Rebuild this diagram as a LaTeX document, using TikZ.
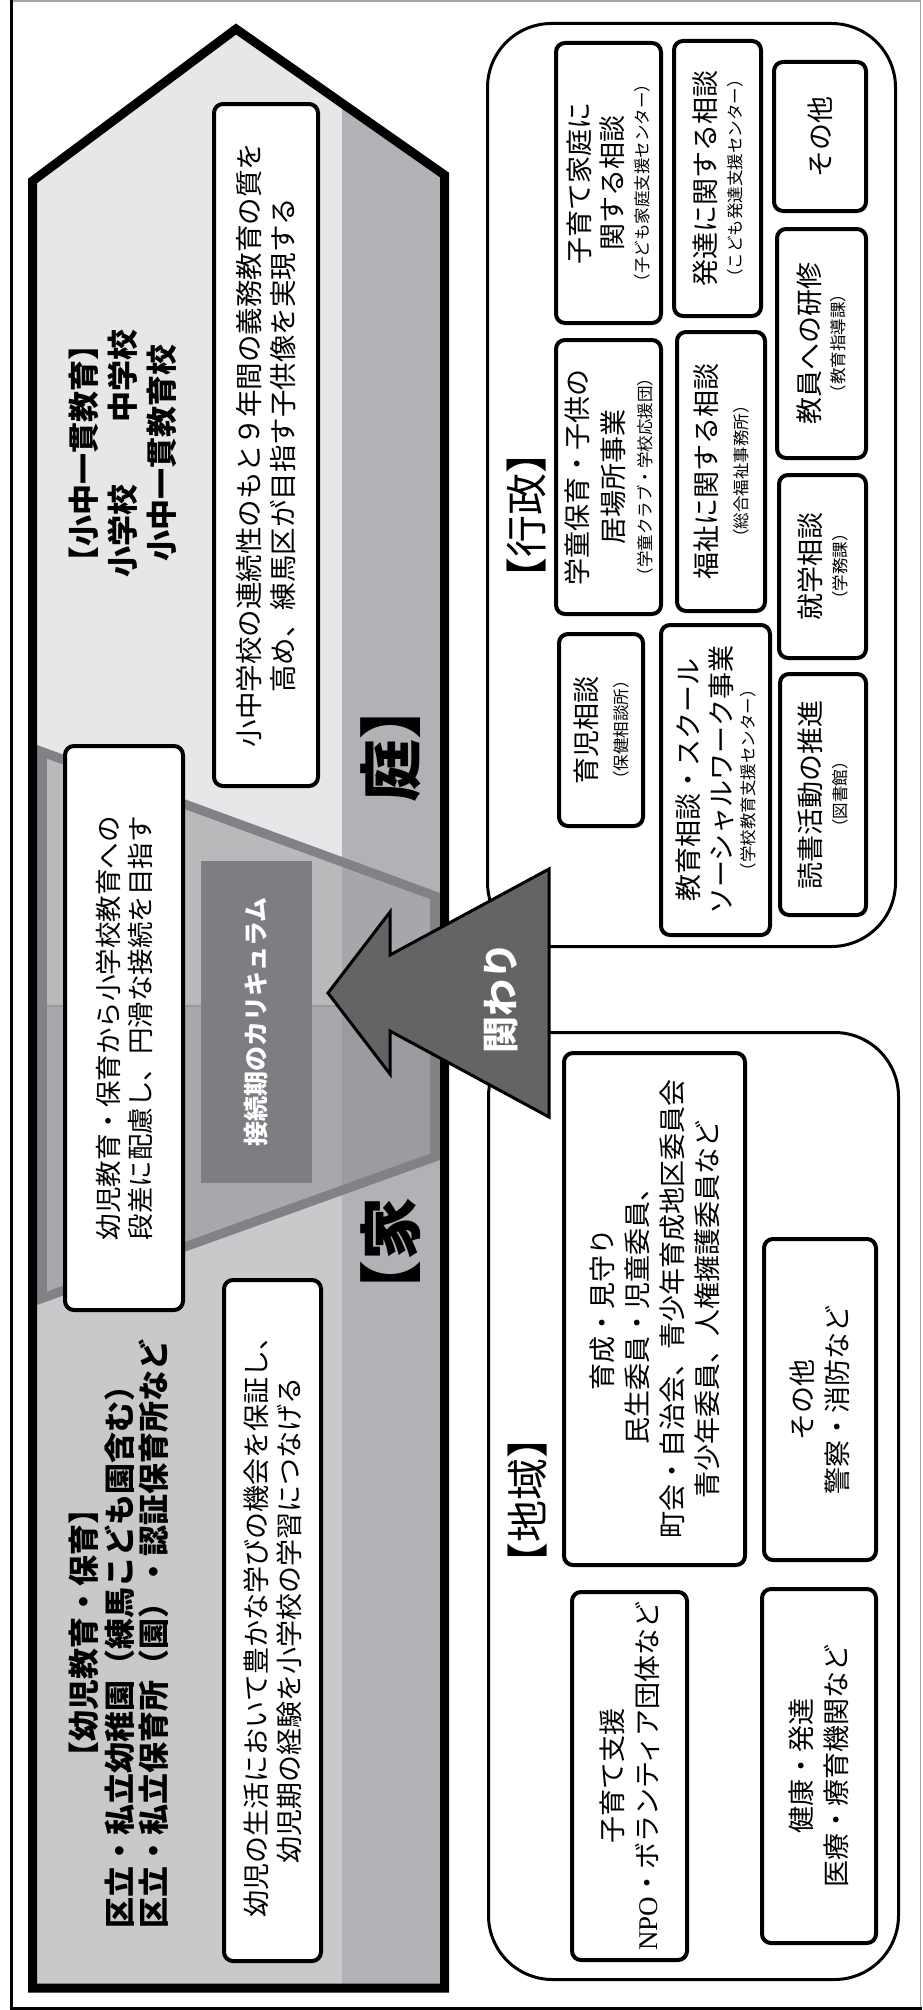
\documentclass[tikz,border=0pt]{standalone}
\usepackage{fontspec}
\setmainfont{Noto Sans CJK JP}
\newfontfamily\lserif{Liberation Serif}
\definecolor{roofc}{HTML}{E6E7E8}
\definecolor{bandc}{HTML}{B1B2B5}
\definecolor{lowc}{HTML}{C8C9CB}
\definecolor{trapc}{HTML}{808285}
\definecolor{tUL}{HTML}{B8B9BB}
\definecolor{tUR}{HTML}{A6A7AA}
\definecolor{tLL}{HTML}{A7A8AB}
\definecolor{tLR}{HTML}{9B9C9F}
\definecolor{currc}{HTML}{7D7E82}
\definecolor{arrc}{HTML}{636466}
\newcommand\fnBody{\fontsize{27}{35}\selectfont}
\newcommand\fnSmall{\fontsize{16.5}{26}\selectfont}
\newcommand\fnHead{\fontsize{42}{50}\selectfont}
\newcommand\fnTitle{\bfseries\fontsize{31}{39}\selectfont}
\newcommand\fnTitleB{\bfseries\fontsize{31}{35}\selectfont}
\newcommand\fnBig{\bfseries\fontsize{63}{70}\selectfont}
\newcommand\fnCur{\bfseries\fontsize{25}{30}\selectfont}
\newcommand\fnArr{\bfseries\fontsize{37}{44}\selectfont}
\begin{document}
\begin{tikzpicture}[x=1pt,y=-1pt,
  rt/.style={rotate=90, inner sep=0pt, align=center},
  sbox/.style={rt, draw=black, line width=4pt, fill=white, rounded corners=9pt, font=\fnBody},
  bigbox/.style={draw=black, line width=3pt, rounded corners=64pt, inner sep=0pt}]
\useasboundingbox (0,0) rectangle (922,2010);
% page frame
\draw[line width=3pt] (11.5,0) -- (11.5,2008.5) -- (922,2008.5);
\draw[line width=1.2pt, black!35] (13,1) -- (920.5,1) -- (920.5,2007);
% house shape fills
\begin{scope}
\clip (32.5,181) -- (236,29) -- (444.5,175) -- (444.5,1988) -- (32.5,1988) -- cycle;
\fill[roofc] (0,0) rectangle (460,2000);
\fill[lowc] (0,1318) -- (460,1152) -- (460,2000) -- (0,2000) -- cycle;
\fill[bandc] (342,0) rectangle (460,2000);
\fill[trapc] (30,742.4) -- (450,896.6) -- (450,1156.3) -- (30,1307.5) -- cycle;
\begin{scope}
\clip (47,758.7) -- (430,899.2) -- (430,1153.5) -- (47,1291.4) -- cycle;
\fill[tUL] (40,700) rectangle (342,1006);
\fill[tUR] (342,700) rectangle (440,1006);
\fill[tLL] (40,1006) rectangle (342,1300);
\fill[tLR] (342,1006) rectangle (440,1300);
\draw[line width=1.2pt, black!40] (40,1006) -- (440,1006);
\end{scope}
\end{scope}
\draw[line width=9pt, line join=miter] (32.5,181) -- (236,29) -- (444.5,175) -- (444.5,1988) -- (32.5,1988) -- cycle;
% texts in the house
\node[rt, font=\fnTitle] (t1) at (123,453) {【小中一貫教育】\\小学校　　中学校\\小中一貫教育校};
\node[sbox, minimum width=682pt, minimum height=104pt, font=\fontsize{27.5}{34}\selectfont] (p) at (266,445)
  {小中学校の連続性のもと９年間の義務教育の質を\\高め、練馬区が目指す子供像を実現する};
\node[rt, fill=currc, text=white, minimum width=322pt, minimum height=111pt, font=\fnCur] (cur) at (256.5,1022) {接続期のカリキュラム};
\node[sbox, minimum width=564pt, minimum height=118pt, font=\fontsize{26.5}{32}\selectfont] (q) at (124,1028)
  {幼児教育・保育から小学校教育への\\段差に配慮し、円滑な接続を目指す};
\node[sbox, minimum width=681pt, minimum height=97pt, font=\fontsize{27}{33}\selectfont] (r) at (272.5,1620.5)
  {幼児の生活において豊かな学びの機会を保証し、\\幼児期の経験を小学校の学習につなげる};
\node[rt, font=\fnTitleB] (t2a) at (84,1633) {【幼児教育・保育】};
\node[rt, font=\fnTitleB, anchor=west] (t2b) at (120,1929) {区立・私立幼稚園（練馬こども園含む）};
\node[rt, font=\fnTitleB, anchor=west] (t2c) at (154,1929) {区立・私立保育所（園）・認証保育所など};
\node[rt, font=\fnBig] (ie) at (391,1245) {\kern-0.5em【家};
\node[rt, font=\fnBig] (niwa) at (391,755) {庭】\kern-0.5em};
% administration
\node[bigbox, minimum width=408pt, minimum height=923pt] (gyosei) at (691.5,485) {};
\node[rt, font=\fnHead] (hgyosei) at (527,515) {\kern-0.5em【行政】\kern-0.5em};
\node[sbox, minimum width=280pt, minimum height=105pt] (ga) at (608.5,183)
  {子育て家庭に\\[-2pt]関する相談\\[-9pt]{\fnSmall （子ども家庭支援センター）}};
\node[sbox, minimum width=275pt, minimum height=87pt] (gb) at (717.5,178.5)
  {発達に関する相談\\[-9pt]{\fnSmall （こども発達支援センター）}};
\node[sbox, minimum width=149pt, minimum height=92pt] (gc) at (820,136.5) {その他};
\node[sbox, minimum width=274pt, minimum height=105pt] (gd) at (608.5,477)
  {学童保育・子供の\\[1pt]居場所事業\\[-7pt]{\fnSmall （学童クラブ・学校応援団）}};
\node[sbox, minimum width=279pt, minimum height=88pt] (ge) at (721,471.5)
  {福祉に関する相談\\[-4pt]{\fnSmall （総合福祉事務所）}};
\node[sbox, minimum width=229pt, minimum height=89pt] (gf) at (821.5,343.5)
  {教員への研修\\[-10pt]{\fnSmall （教育指導課）}};
\node[sbox, minimum width=183pt, minimum height=87pt] (gg) at (822.5,566.5)
  {就学相談\\[-9pt]{\fnSmall （学務課）}};
\node[sbox, minimum width=192pt, minimum height=84pt] (gh) at (601,730)
  {育児相談\\[-4pt]{\fnSmall （保健相談所）}};
\node[sbox, minimum width=310pt, minimum height=109pt] (gi) at (715.5,780)
  {教育相談・スクール\\[-2pt]ソーシャルワーク事業\\[-12pt]{\fnSmall （学校教育支援センター）}};
\node[sbox, minimum width=241pt, minimum height=86pt] (gj) at (823,794.5)
  {読書活動の推進\\[-9pt]{\fnSmall （図書館）}};
% community
\node[bigbox, minimum width=410pt, minimum height=947pt] (chiiki) at (693.5,1506) {};
\node[rt, font=\fnHead] (hchiiki) at (528,1500) {\kern-0.5em【地域】\kern-0.5em};
\node[sbox, minimum width=512pt, minimum height=181pt] (ck) at (654.5,1309)
  {育成・見守り\\民生委員・児童委員、\\町会・自治会、青少年育成地区委員会\\青少年委員、人権擁護委員など};
\node[sbox, minimum width=321pt, minimum height=112pt] (cl) at (820,1399.5)
  {その他\\警察・消防など};
\node[sbox, minimum width=368pt, minimum height=115pt] (cm) at (629.5,1776)
  {子育て支援\\{\lserif NPO}・ボランティア団体など};
\node[sbox, minimum width=354pt, minimum height=114pt] (cn) at (819,1766)
  {健康・発達\\医療・療育機関など};
% big arrow
\draw[line width=3pt, fill=arrc, line join=miter] (328,993) -- (390,912) -- (390,955) -- (549,869) -- (549,1117) -- (390,1031) -- (390,1074) -- cycle;
\node[rt, text=white, font=\fnArr] (kakawari) at (501,998) {関わり};
\end{tikzpicture}
\end{document}
